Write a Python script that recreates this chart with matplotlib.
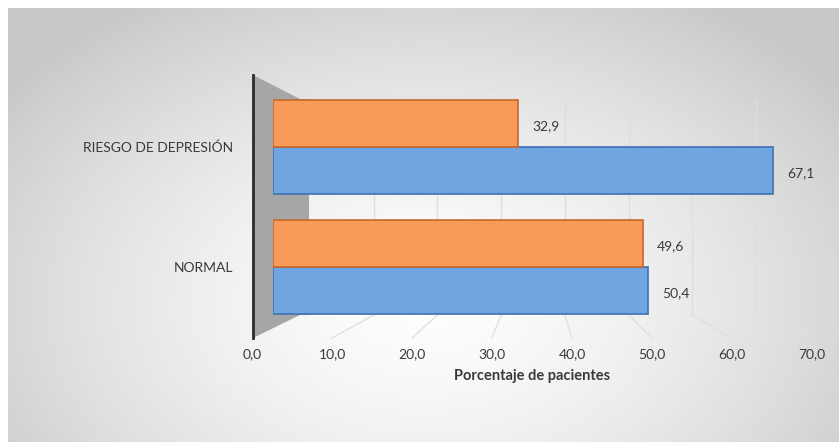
import numpy as np
import matplotlib.pyplot as plt
from matplotlib.patches import Polygon

# datos
categorias = ['NORMAL', 'RIESGO DE DEPRESIÓN']
serie_azul = [50.4, 67.1]
serie_naranja = [49.6, 32.9]
ticks = [0, 10, 20, 30, 40, 50, 60, 70]
tick_labels = ['0,0', '10,0', '20,0', '30,0', '40,0', '50,0', '60,0', '70,0']

W, H = 839, 442
plt.rcParams['font.family'] = ['Lato', 'DejaVu Sans']
texto = '#3a3a3a'

fig = plt.figure(figsize=(W / 100, H / 100), dpi=100)
fig.patch.set_facecolor('white')

# fondo con degradado (coordenadas en pixeles)
bg = fig.add_axes([0, 0, 1, 1])
bg.set_xlim(0, W)
bg.set_ylim(H, 0)
bg.axis('off')
yy, xx = np.mgrid[0:H, 0:W]
d = np.sqrt(((xx - 420) / 520.0) ** 2 + ((yy - 300) / 360.0) ** 2)
grad = np.clip(253 - 52 * d ** 1.5, 200, 253) / 255.0
bg.imshow(grad, cmap='gray', vmin=0, vmax=1, extent=(8, W, H, 8), aspect='auto', zorder=0)

# pared lateral
pared = Polygon([(253, 75), (300, 99), (309, 99), (309, 315), (300, 315), (253, 338)],
                closed=True, facecolor='#a6a6a6', edgecolor='none', zorder=1)
bg.add_patch(pared)
bg.plot([253, 253], [75, 338], color='#2b2b2b', lw=2, zorder=2)

# rejilla del fondo y del suelo
for t in ticks[1:]:
    xb = 310 + t * 6.37
    xf = 252 + t * 8.0
    bg.plot([xb, xb], [99, 315], color='#dedede', lw=1, zorder=1)
    bg.plot([xb, xf], [315, 338], color='#e0e0e0', lw=1, zorder=1)

# barras
ax = fig.add_axes([273 / W, (H - 327) / H, 70 * 7.45 / W, 240 / H])
ax.set_facecolor('none')
y = np.arange(len(categorias))
h = 0.39
b1 = ax.barh(y - h / 2, serie_azul, height=h, color='#6fa5e0', edgecolor='#3f70b0', lw=1.2)
b2 = ax.barh(y + h / 2, serie_naranja, height=h, color='#f89a58', edgecolor='#c7682a', lw=1.2)
ax.set_xlim(0, 70)
ax.set_ylim(-0.5, 1.5)
for s in ax.spines.values():
    s.set_visible(False)
ax.set_xticks([])
ax.set_yticks(y)
ax.set_yticklabels(categorias, fontsize=10, color=texto)
ax.tick_params(axis='y', length=0, pad=29)

for barras, vals in [(b1, serie_azul), (b2, serie_naranja)]:
    for r, v in zip(barras, vals):
        ax.annotate(f'{v:.1f}'.replace('.', ','), (v, r.get_y() + r.get_height() / 2),
                    xytext=(10, -2), textcoords='offset points', va='center', ha='left',
                    fontsize=10, color=texto)

# eje de valores (plano frontal)
axt = fig.add_axes([252 / W, (H - 340) / H, 560 / W, 0.0001])
axt.set_facecolor('none')
axt.set_xlim(0, 70)
axt.set_yticks([])
for s in axt.spines.values():
    s.set_visible(False)
axt.set_xticks(ticks)
axt.set_xticklabels(tick_labels, fontsize=10, color=texto)
axt.tick_params(axis='x', length=0, pad=6)
axt.set_xlabel('Porcentaje de pacientes', fontsize=10.5, fontweight='bold', color=texto, labelpad=6)

fig.savefig('out.png', dpi=100)
